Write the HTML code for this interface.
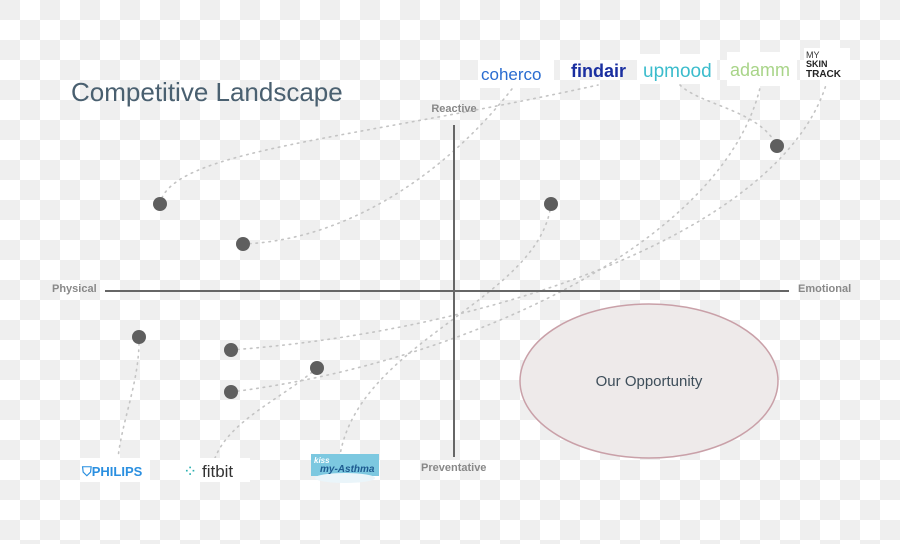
<!DOCTYPE html>
<html><head><meta charset="utf-8"><style>
html,body{margin:0;padding:0;width:900px;height:544px;overflow:hidden}
body{background-color:#fff;background-image:conic-gradient(#efefef 25%,#fff 0 50%,#efefef 0 75%,#fff 0);background-size:40px 40px;background-position:20px 0;font-family:"Liberation Sans",sans-serif}
</style></head><body>
<svg width="900" height="544" viewBox="0 0 900 544" xmlns="http://www.w3.org/2000/svg" style="position:absolute;left:0;top:0">
<g fill="none" stroke="#c4c4c4" stroke-width="1.6" stroke-dasharray="1.5 5" stroke-linecap="round">
<path d="M160,204 C170,150 350,140 598,85"/>
<path d="M243,244 C350,240 450,170 515,85"/>
<path d="M680,85 C700,105 760,110 777,146"/>
<path d="M231,350 C500,330 780,230 826,85"/>
<path d="M231,392 C450,365 720,250 760,88"/>
<path d="M551,204 C540,300 360,340 340,455"/>
<path d="M317,368 C280,400 230,420 215,458"/>
<path d="M139,337 C140,380 122,420 118,458"/>
</g>
<line x1="454" y1="125" x2="454" y2="457" stroke="#666" stroke-width="2"/>
<line x1="105" y1="291" x2="789" y2="291" stroke="#666" stroke-width="2"/>
<ellipse cx="649" cy="381" rx="129" ry="77" fill="#eeeaea" stroke="#c9a0a8" stroke-width="1.5"/>
<g fill="#5f5f5f">
<circle cx="160" cy="204" r="7"/><circle cx="243" cy="244" r="7"/><circle cx="551" cy="204" r="7"/><circle cx="777" cy="146" r="7"/>
<circle cx="139" cy="337" r="7"/><circle cx="231" cy="350" r="7"/><circle cx="231" cy="392" r="7"/><circle cx="317" cy="368" r="7"/>
</g>
<text x="71" y="101" font-size="26" fill="#4a6070">Competitive Landscape</text>
<g font-size="11" font-weight="bold" fill="#888">
<text x="454" y="112" text-anchor="middle">Reactive</text>
<text x="52" y="292">Physical</text>
<text x="798" y="292">Emotional</text>
<text x="421" y="471">Preventative</text>
</g>
<text x="649" y="386" text-anchor="middle" font-size="15" fill="#3e4e5a">Our Opportunity</text>
<rect x="478" y="60" width="76" height="28" fill="#fff"/>
<text x="481" y="80" font-size="17" fill="#2a6cd0">coherco</text>
<text x="571" y="77" font-size="18" font-weight="bold" fill="#1a2fa0">findair</text>
<rect x="637" y="54" width="80" height="30" fill="#fff"/>
<text x="643" y="77" font-size="19" fill="#3bbccc">upmood</text>
<rect x="727" y="52" width="70" height="34" fill="#fff"/>
<text x="730" y="76" font-size="18" fill="#a8d488">adamm</text>
<rect x="804" y="48" width="46" height="32" fill="#fff"/>
<text x="806" y="58" font-size="9" fill="#333">MY</text>
<text x="806" y="67" font-size="9" font-weight="bold" fill="#222">SKIN</text>
<text x="806" y="77" font-size="10" font-weight="bold" fill="#222">TRACK</text>
<rect x="80" y="458" width="70" height="24" fill="#fff"/>
<text x="82" y="476" font-size="13" font-weight="bold" fill="#2a8fe0">⛉PHILIPS</text>
<rect x="180" y="458" width="70" height="24" fill="#fff"/>
<text x="183" y="477" font-size="17" fill="#333"><tspan fill="#2bb0b0">⁘</tspan> fitbit</text>
<rect x="311" y="454" width="68" height="22" fill="#7cc8e0"/>
<ellipse cx="345" cy="478" rx="30" ry="5" fill="#eaf5fa"/>
<text x="314" y="463" font-size="8" font-weight="bold" font-style="italic" fill="#fff">kiss</text>
<text x="320" y="472" font-size="10" font-weight="bold" font-style="italic" fill="#1d5a90">my-Asthma</text>
</svg>
</body></html>
